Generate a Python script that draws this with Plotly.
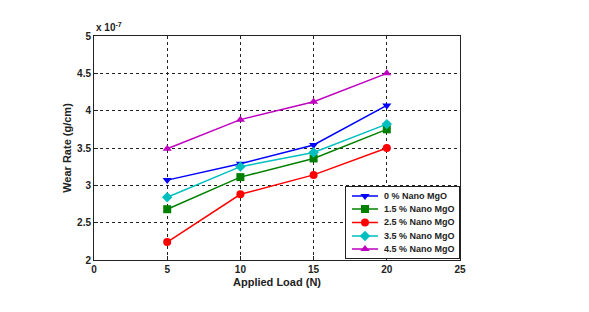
import plotly.graph_objects as go

loads = [5, 10, 15, 20]
names = ["0 % Nano MgO", "1.5 % Nano MgO", "2.5 % Nano MgO", "3.5 % Nano MgO", "4.5 % Nano MgO"]
# wear rate in units of 1e-7 g/cm
wear_0 = [3.07, 3.29, 3.54, 4.07]
wear_15 = [2.68, 3.11, 3.36, 3.75]
wear_25 = [2.24, 2.88, 3.14, 3.50]
wear_35 = [2.84, 3.25, 3.44, 3.82]
wear_45 = [3.49, 3.88, 4.12, 4.50]

x_ticks = [0, 5, 10, 15, 20, 25]
y_ticks = [2, 2.5, 3, 3.5, 4, 4.5, 5]
y_tick_text = ["2", "2.5", "3", "3.5", "4", "4.5", "5"]

series = [wear_0, wear_15, wear_25, wear_35, wear_45]
colors = ["#0000FF", "#008000", "#FF0000", "#00BFBF", "#BF00BF"]
symbols = ["triangle-down", "square", "circle", "diamond", "triangle-up"]

font_family = "Liberation Sans, Arial, sans-serif"
ink = "#222222"
X_RANGE = [0, 25]
Y_RANGE = [2, 5]

# legend box geometry (domain of the inset legend axes, in plot-area fractions)
LEG_X = [0.6885, 0.9973]
LEG_Y = [0.0089, 0.3259]
LEG_W, LEG_H = 113, 71          # inset axis units (~pixels)
ROW_Y = [9, 22, 35.5, 49, 62]
LINE_X0, LINE_X1, MARK_X, TEXT_X = 6, 32, 19, 36

fig = go.Figure()
for n, ys, c, s in zip(names, series, colors, symbols):
    fig.add_trace(go.Scatter(
        x=loads, y=ys, name=n, mode="lines+markers", showlegend=False,
        line=dict(color=c, width=1.5),
        marker=dict(symbol=s, size=8, color=c, line=dict(width=0)),
    ))

# hand-drawn legend (inset axes) to match the compact MATLAB legend
annotations = []
for n, c, s, ry in zip(names, colors, symbols, ROW_Y):
    fig.add_trace(go.Scatter(
        x=[LINE_X0, LINE_X1], y=[ry, ry], mode="lines", showlegend=False,
        line=dict(color=c, width=1.5), xaxis="x2", yaxis="y2", hoverinfo="skip",
    ))
    fig.add_trace(go.Scatter(
        x=[MARK_X], y=[ry], mode="markers", showlegend=False,
        marker=dict(symbol=s, size=8, color=c, line=dict(width=0)),
        xaxis="x2", yaxis="y2", hoverinfo="skip",
    ))
    annotations.append(dict(
        text=n, x=TEXT_X, y=ry, xref="x2", yref="y2", xanchor="left", yanchor="middle",
        showarrow=False, font=dict(size=9, weight="bold", color=ink, family=font_family),
    ))

annotations.append(dict(
    text="x 10<sup>-7</sup>", x=0, y=1, xref="paper", yref="paper",
    xanchor="left", yanchor="bottom", showarrow=False,
    font=dict(size=10, weight="bold", color=ink, family=font_family), yshift=1,
))

def _lerp(r, f):
    return r[0] + (r[1] - r[0]) * f

fig.update_layout(
    width=581, height=304,
    margin=dict(l=86, r=129, t=28, b=52),
    paper_bgcolor="white", plot_bgcolor="white",
    font=dict(family=font_family, size=10, color=ink),
    showlegend=False,
    xaxis=dict(
        domain=[0, 1],
        range=X_RANGE, tickvals=x_ticks,
        showline=True, linecolor=ink, linewidth=1, mirror=True,
        showgrid=True, gridcolor=ink, griddash="dot", gridwidth=1,
        ticks="inside", ticklen=4, tickcolor=ink,
        tickfont=dict(size=10, weight="bold"),
        title=dict(text="Applied Load (N)", font=dict(size=11, weight="bold"), standoff=4),
        zeroline=False,
    ),
    yaxis=dict(
        domain=[0, 1],
        range=Y_RANGE, tickvals=y_ticks, ticktext=y_tick_text,
        showline=True, linecolor=ink, linewidth=1, mirror=True,
        showgrid=True, gridcolor=ink, griddash="dot", gridwidth=1,
        ticks="inside", ticklen=4, tickcolor=ink,
        tickfont=dict(size=10, weight="bold"),
        title=dict(text="Wear Rate (g/cm)", font=dict(size=11, weight="bold"), standoff=3),
        zeroline=False,
    ),
    xaxis2=dict(
        domain=LEG_X, anchor="y2", range=[0, LEG_W],
        showgrid=False, zeroline=False, showticklabels=False, ticks="",
        showline=True, mirror=True, linecolor=ink, linewidth=1, fixedrange=True,
    ),
    yaxis2=dict(
        domain=LEG_Y, anchor="x2", range=[LEG_H, 0],
        showgrid=False, zeroline=False, showticklabels=False, ticks="",
        showline=True, mirror=True, linecolor=ink, linewidth=1, fixedrange=True,
    ),
    shapes=[dict(
        type="rect", xref="x", yref="y",
        x0=_lerp(X_RANGE, LEG_X[0]), x1=_lerp(X_RANGE, LEG_X[1]),
        y0=_lerp(Y_RANGE, LEG_Y[0]), y1=_lerp(Y_RANGE, LEG_Y[1]),
        fillcolor="white", line=dict(width=0), layer="between",
    )],
    annotations=annotations,
)

fig.write_html("out.html")
